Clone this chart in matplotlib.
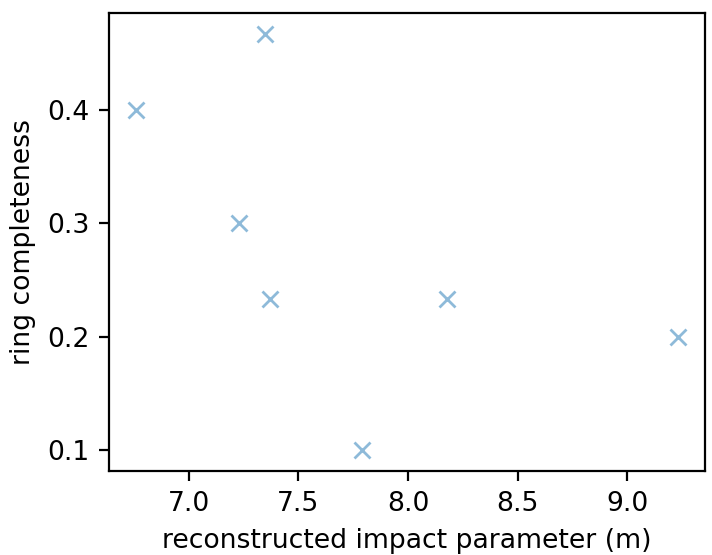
import numpy as np
import matplotlib
matplotlib.use("Agg")
import matplotlib.pyplot as plt

plt.rcParams['font.size'] = 9.6

# impact parameter (m) vs ring completeness
impact = [6.76, 7.35, 7.23, 7.37, 7.79, 8.18, 9.23]
completeness = [0.4, 0.4667, 0.3, 0.2333, 0.1, 0.2333, 0.2]

fig = plt.figure(figsize=(7.12 / 2, 5.55 / 2), dpi=200)
ax = fig.add_axes([0.153, 0.151, 0.837, 0.825])

ax.plot(impact, completeness, 'x', color='tab:blue', alpha=0.5)
ax.set_xlabel('reconstructed impact parameter (m)')
ax.set_ylabel('ring completeness')
ax.set_xticks([7.0, 7.5, 8.0, 8.5, 9.0])
ax.set_yticks([0.1, 0.2, 0.3, 0.4])

fig.savefig('out.png', dpi=200)
